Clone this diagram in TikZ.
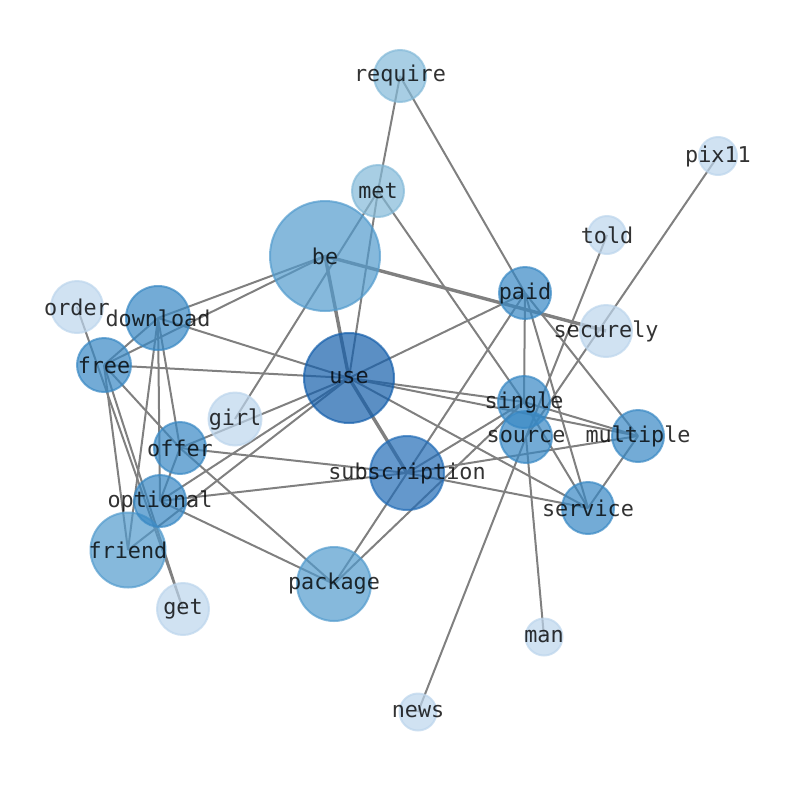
\documentclass[tikz,border=0pt]{standalone}
\usepackage{fontspec}
\setmonofont{DejaVu Sans Mono}
\usetikzlibrary{backgrounds}

\definecolor{blueA}{RGB}{21,95,171}
\definecolor{blueB}{RGB}{34,108,182}
\definecolor{blueC}{RGB}{56,136,196}
\definecolor{blueD}{RGB}{82,155,205}
\definecolor{blueE}{RGB}{131,185,216}
\definecolor{blueF}{RGB}{188,213,236}

\begin{document}
\begin{tikzpicture}[x=1pt,y=-1pt]
\tikzset{
  WordStyle/.style = {circle, inner sep=0pt, line width=2pt, opacity=0.7},
  word/.style 2 args = {WordStyle, minimum size=#1, fill=#2, draw=#2},
  WordText/.style = {inner sep=0pt, text=black, text opacity=0.8,
                     font=\ttfamily\fontsize{21.8}{26}\selectfont},
  LinkStyle/.style = {draw=gray, line width=2pt},
  HeavyLink/.style = {LinkStyle, line width=3.4pt},
}
  \useasboundingbox (0,0) rectangle (794,790);

  % big words
  \node[word={90pt}{blueA}, label={[WordText]center:use}] (use) at (349,378) {};
  \node[word={110pt}{blueD}, label={[WordText]center:be}] (be) at (325,256) {};
  \node[word={74pt}{blueB}, label={[WordText]center:subscription}] (subscription) at (407,473) {};
  \node[word={74pt}{blueD}, label={[WordText]center:package}] (package) at (334,584) {};
  \node[word={75pt}{blueD}, label={[WordText]center:friend}] (friend) at (128,550) {};
  \node[word={64pt}{blueC}, label={[WordText]center:download}] (download) at (158,318) {};

  % middle words
  \node[word={54pt}{blueC}, label={[WordText]center:free}] (free) at (104,365) {};
  \node[word={52pt}{blueC}, label={[WordText]center:offer}] (offer) at (180,448) {};
  \node[word={52pt}{blueC}, label={[WordText]center:optional}] (optional) at (160,501) {};
  \node[word={52pt}{blueC}, label={[WordText]center:paid}] (paid) at (525,293) {};
  \node[word={52pt}{blueC}, label={[WordText]center:source}] (source) at (526,437) {};
  \node[word={52pt}{blueC}, label={[WordText]center:single}] (single) at (524,402) {};
  \node[word={52pt}{blueC}, label={[WordText]center:multiple}] (multiple) at (638,436) {};
  \node[word={52pt}{blueC}, label={[WordText]center:service}] (service) at (588,508) {};
  \node[word={52pt}{blueE}, label={[WordText]center:require}] (require) at (400,76) {};
  \node[word={52pt}{blueE}, label={[WordText]center:met}] (met) at (378,191) {};

  % small words
  \node[word={52pt}{blueF}, label={[WordText]center:order}] (order) at (77,307) {};
  \node[word={53pt}{blueF}, label={[WordText]center:girl}] (girl) at (235,419) {};
  \node[word={52pt}{blueF}, label={[WordText]center:get}] (get) at (183,609) {};
  \node[word={52pt}{blueF}, label={[WordText]center:securely}] (securely) at (606,331) {};
  \node[word={38pt}{blueF}, label={[WordText]center:told}] (told) at (607,235) {};
  \node[word={38pt}{blueF}, label={[WordText]center:pix11}] (pix11) at (718,156) {};
  \node[word={37pt}{blueF}, label={[WordText]center:man}] (man) at (544,637) {};
  \node[word={37pt}{blueF}, label={[WordText]center:news}] (news) at (418,712) {};

  \begin{scope}[on background layer]
  \draw[HeavyLink] (be.center) -- (use.center);
  \draw[HeavyLink] (use.center) -- (subscription.center);
  \draw[HeavyLink] (be.center) -- (securely.center);

  \draw[LinkStyle] (require.center) -- (met.center);
  \draw[LinkStyle] (require.center) -- (paid.center);
  \draw[LinkStyle] (met.center) -- (girl.center);
  \draw[LinkStyle] (met.center) -- (use.center);
  \draw[LinkStyle] (met.center) -- (single.center);
  \draw[LinkStyle] (be.center) -- (download.center);
  \draw[LinkStyle] (be.center) -- (free.center);
  \draw[LinkStyle] (use.center) -- (download.center);
  \draw[LinkStyle] (use.center) -- (free.center);
  \draw[LinkStyle] (use.center) -- (offer.center);
  \draw[LinkStyle] (use.center) -- (optional.center);
  \draw[LinkStyle] (use.center) -- (friend.center);
  \draw[LinkStyle] (use.center) -- (paid.center);
  \draw[LinkStyle] (use.center) -- (single.center);
  \draw[LinkStyle] (use.center) -- (multiple.center);
  \draw[LinkStyle] (use.center) -- (service.center);
  \draw[LinkStyle] (download.center) -- (free.center);
  \draw[LinkStyle] (download.center) -- (friend.center);
  \draw[LinkStyle] (download.center) -- (optional.center);
  \draw[LinkStyle] (download.center) -- (offer.center);
  \draw[LinkStyle] (free.center) -- (friend.center);
  \draw[LinkStyle] (free.center) -- (offer.center);
  \draw[LinkStyle] (free.center) -- (get.center);
  \draw[LinkStyle] (order.center) -- (get.center);
  \draw[LinkStyle] (offer.center) -- (optional.center);
  \draw[LinkStyle] (offer.center) -- (package.center);
  \draw[LinkStyle] (offer.center) -- (subscription.center);
  \draw[LinkStyle] (optional.center) -- (subscription.center);
  \draw[LinkStyle] (optional.center) -- (package.center);
  \draw[LinkStyle] (subscription.center) -- (paid.center);
  \draw[LinkStyle] (subscription.center) -- (package.center);
  \draw[LinkStyle] (subscription.center) -- (single.center);
  \draw[LinkStyle] (subscription.center) -- (multiple.center);
  \draw[LinkStyle] (subscription.center) -- (service.center);
  \draw[LinkStyle] (package.center) -- (single.center);
  \draw[LinkStyle] (paid.center) -- (single.center);
  \draw[LinkStyle] (paid.center) -- (service.center);
  \draw[LinkStyle] (paid.center) -- (multiple.center);
  \draw[LinkStyle] (pix11.center) -- (source.center);
  \draw[LinkStyle] (told.center) -- (source.center);
  \draw[LinkStyle] (source.center) -- (news.center);
  \draw[LinkStyle] (source.center) -- (man.center);
  \draw[LinkStyle] (single.center) -- (multiple.center);
  \draw[LinkStyle] (single.center) -- (service.center);
  \draw[LinkStyle] (multiple.center) -- (service.center);
  \end{scope}

\end{tikzpicture}
\end{document}
